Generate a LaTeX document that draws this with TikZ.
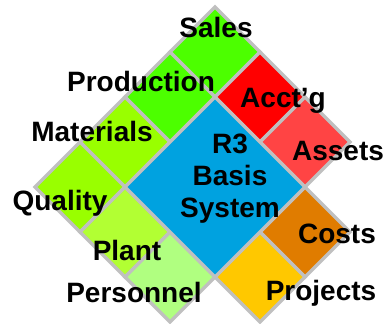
\documentclass[tikz,border=0pt]{standalone}
\usepackage{fontspec}
\setmainfont{Liberation Sans}
\definecolor{cellgray}{RGB}{192,192,192}
\definecolor{salesgreen}{RGB}{76,255,0}
\definecolor{matgreen}{RGB}{153,255,0}
\definecolor{plantgreen}{RGB}{178,255,51}
\definecolor{persgreen}{RGB}{176,255,128}
\definecolor{acctred}{RGB}{255,0,0}
\definecolor{assetred}{RGB}{255,68,68}
\definecolor{basisblue}{RGB}{0,162,224}
\definecolor{costorange}{RGB}{224,124,0}
\definecolor{projgold}{RGB}{255,200,0}
\tikzstyle{cell}=[draw=cellgray,line width=3.5pt]
\tikzstyle{lbl}=[font=\fontsize{28}{32}\selectfont\bfseries,anchor=base,inner sep=0pt]

\begin{document}
\begin{tikzpicture}[x=1pt,y=-1pt]
	\useasboundingbox (0,0) rectangle (391,324);
		\foreach \u / \v / \c in {0/0/salesgreen,0/1/salesgreen,0/2/matgreen,0/3/matgreen,1/3/plantgreen,2/3/persgreen}{ \filldraw[cell,fill=\c] ({215+45*(\u-\v)},{52+45*(\u+\v)}) ++(0,-45) -- ++(45,45) -- ++(-45,45) -- ++(-45,-45) -- cycle;}
		\foreach \u / \v / \c in {1/0/acctred,2/0/assetred,3/1/costorange,3/2/projgold}{ \filldraw[cell,fill=\c] ({215+45*(\u-\v)},{52+45*(\u+\v)}) ++(0,-45) -- ++(45,45) -- ++(-45,45) -- ++(-45,-45) -- cycle;}
		\filldraw[cell,fill=basisblue] (215,97) -- (305,187) -- (215,277) -- (125,187) -- cycle;

		\node[lbl] (sales) at (216,37) {Sales};
		\node[lbl] (production) at (141,91) {Production};
		\node[lbl] (acctg) at (283,107) {Acct’g};
		\node[lbl] (materials) at (92,141) {Materials};
		\node[lbl] (assets) at (338,160) {Assets};
		\node[lbl,align=center] (basis) at (230,217) {R3\\Basis\\System};
		\node[lbl] (quality) at (60,210) {Quality};
		\node[lbl] (plant) at (127,260) {Plant};
		\node[lbl] (costs) at (337,243) {Costs};
		\node[lbl] (personnel) at (134,302) {Personnel};
		\node[lbl] (projects) at (321,300) {Projects};
\end{tikzpicture}
\end{document}
